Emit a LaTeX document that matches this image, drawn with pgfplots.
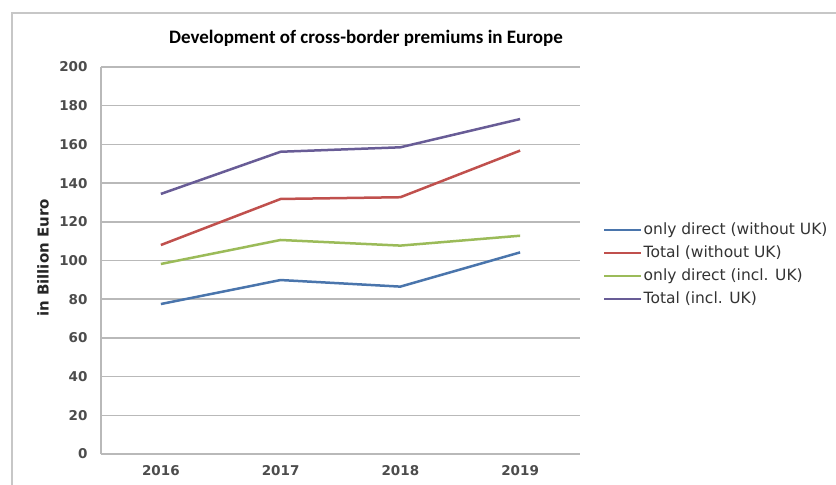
\documentclass[border=0pt]{standalone}
\usepackage{fontspec}
\setmainfont{DejaVu Sans}
\newfontfamily\carlito{Carlito}
\usepackage{pgfplots}
\pgfplotsset{compat=1.18}
\definecolor{sBlue}{RGB}{74,117,172}
\definecolor{sRed}{RGB}{192,80,77}
\definecolor{sGreen}{RGB}{155,187,89}
\definecolor{sPurple}{RGB}{104,92,150}
\definecolor{gridgray}{RGB}{185,185,185}
\begin{document}
\begin{tikzpicture}
\useasboundingbox (0bp,0bp) rectangle (836bp,485bp);
\draw[color=gridgray!80, line width=1.5bp] (12bp,0bp) -- (12bp,472bp) -- (836bp,472bp);
\node[font=\carlito\bfseries\fontsize{19bp}{22bp}\selectfont, inner sep=0pt] at (366bp,447bp) {Development of cross-border premiums in Europe};
\node[rotate=90, font=\bfseries\fontsize{15bp}{18bp}\selectfont, inner sep=0pt, text=black!85] at (43bp,227bp) {in Billion Euro};
\begin{axis}[
  at={(101bp,31bp)}, anchor=south west,
  scale only axis, width=479bp, height=387bp,
  xmin=-0.5, xmax=3.5, ymin=0, ymax=200,
  xtick={0,1,2,3}, xticklabels={2016,2017,2018,2019},
  ytick={0,20,...,200},
  axis x line=bottom, axis y line=left,
  axis line style={-, draw=gridgray, line width=1.5bp},
  ymajorgrids, grid style={draw=gridgray, line width=1.5bp},
  major tick length=0pt, tick style={draw=none},
  /pgf/number format/assume math mode=true,
  ticklabel style={font=\bfseries\fontsize{13.5bp}{16bp}\selectfont, text=black!70},
  yticklabel style={anchor=east, xshift=-10bp},
  xticklabel style={anchor=north, yshift=-8bp},
  legend style={at={(1.048,0.6085)}, anchor=north west, draw=none, fill=none,
    font=\fontsize{15.5bp}{18bp}\selectfont, text=black!80,
    inner sep=0pt, row sep=0pt,
    nodes={inner xsep=1bp, inner ysep=4bp, text height=11.5bp, text depth=3.5bp}},
  legend cell align=left,
  legend image code/.code={\draw[#1, line width=2.5bp] (0bp,0bp) -- (37bp,0bp);},
  every axis plot/.append style={line width=2.5bp, mark=none},
  clip=false,
]
\addplot[sBlue] coordinates {(0,77.5) (1,89.9) (2,86.5) (3,104.2)};
\addlegendentry{only direct (without UK)}
\addplot[sRed] coordinates {(0,108) (1,131.8) (2,132.7) (3,156.8)};
\addlegendentry{Total (without UK)}
\addplot[sGreen] coordinates {(0,98.2) (1,110.6) (2,107.7) (3,112.8)};
\addlegendentry{only direct (incl. UK)}
\addplot[sPurple] coordinates {(0,134.4) (1,156.2) (2,158.5) (3,173.1)};
\addlegendentry{Total (incl. UK)}
\end{axis}
\end{tikzpicture}
\end{document}
